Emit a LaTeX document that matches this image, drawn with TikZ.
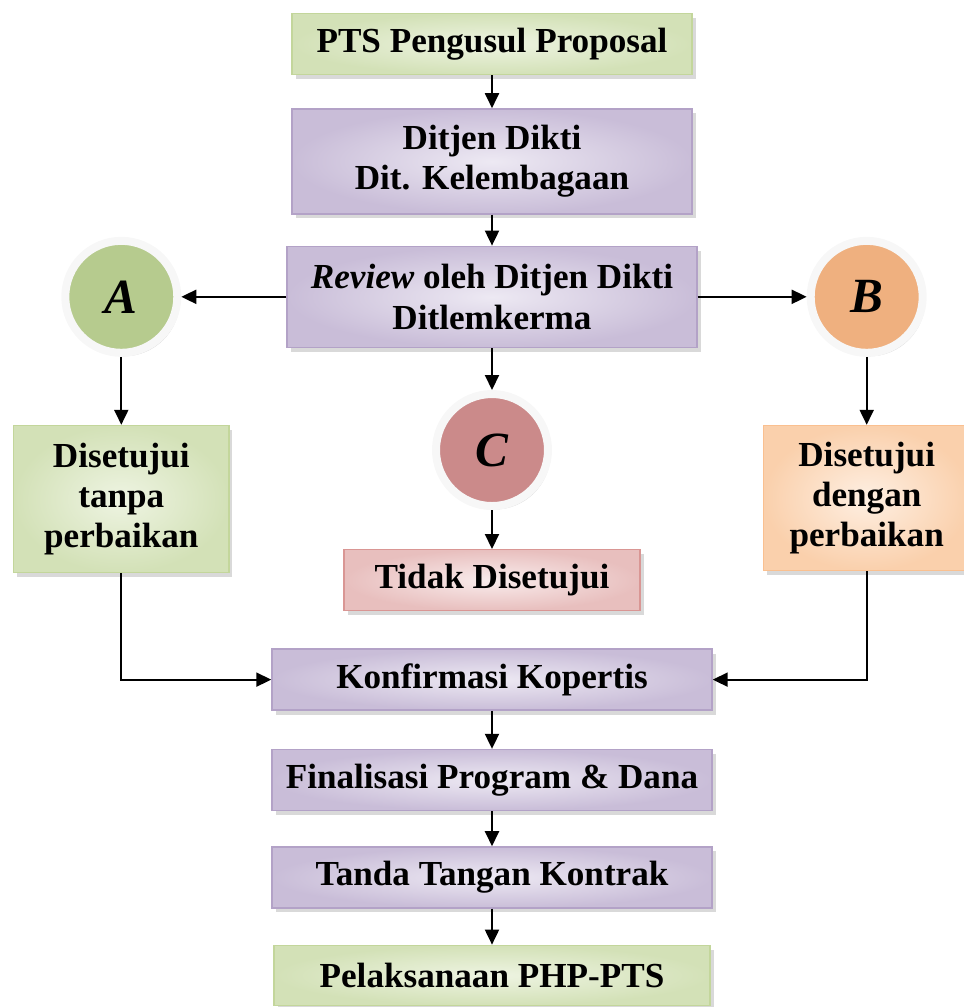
\documentclass[tikz,border=0pt]{standalone}
\usepackage{fontspec}
\setmainfont{Liberation Serif}
\usepackage{tikz}
\usepackage{xcolor}
\usetikzlibrary{shapes.geometric, arrows.meta, positioning, shadows}

\definecolor{grnlight}{HTML}{EEF4E2}
\definecolor{grndark}{HTML}{D3E1B7}
\definecolor{grnline}{HTML}{C3D69B}
\definecolor{purlight}{HTML}{EDE9F3}
\definecolor{purdark}{HTML}{C9BDD8}
\definecolor{purline}{HTML}{B3A2C7}
\definecolor{pchlight}{HTML}{FEEFE2}
\definecolor{pchdark}{HTML}{FAD0AC}
\definecolor{pchline}{HTML}{FAC090}
\definecolor{pnklight}{HTML}{F9ECEC}
\definecolor{pnkdark}{HTML}{E8BFBE}
\definecolor{pnkline}{HTML}{D99694}
\definecolor{circA}{HTML}{B6CB8E}
\definecolor{circB}{HTML}{EFB07F}
\definecolor{circC}{HTML}{CB8A8A}

\tikzstyle{basebox} = [rectangle,
minimum height=1.22cm,
text centered,
align=center,
line width=0.8pt,
font=\fontsize{20}{23}\selectfont\bfseries,
drop shadow={opacity=0.3, shadow xshift=0.07cm, shadow yshift=-0.09cm}]
\tikzstyle{greenbox} = [basebox, draw=grnline, inner color=grnlight, outer color=grndark]
\tikzstyle{purplebox} = [basebox, draw=purline, inner color=purlight, outer color=purdark]
\tikzstyle{peachbox} = [basebox, draw=pchline, inner color=pchlight, outer color=pchdark]
\tikzstyle{pinkbox} = [basebox, draw=pnkline, inner color=pnklight, outer color=pnkdark]
\tikzstyle{badge} = [circle,
minimum size=2.24cm,
draw=gray!6,
line width=0.16cm,
font=\fontsize{28}{30}\selectfont\bfseries\itshape,
drop shadow={opacity=0.3, shadow xshift=0.05cm, shadow yshift=-0.07cm}]
\tikzstyle{arrow} = [line width=1.1pt, -{Triangle[length=0.3cm, width=0.28cm]}]

\begin{document}
\begin{tikzpicture}[node distance=0.64cm]
        \useasboundingbox (0,0) rectangle (19.28,-20.14);

        % --- Nodes ---
        \node (pts) [greenbox, minimum width=8cm] at (9.84,-0.88) {PTS Pengusul Proposal};

        \node (ditjen) [purplebox, minimum width=8cm, minimum height=2.1cm, below=0.66cm of pts] {Ditjen Dikti \\ Dit. Kelembagaan};

        \node (review) [purplebox, minimum width=8.2cm, minimum height=2.02cm, below=0.62cm of ditjen] {\textit{Review} oleh Ditjen Dikti \\ Ditlemkerma};

        \node (bA) [badge, fill=circA, left=2.1cm of review] {A};
        \node (bB) [badge, fill=circB, right=2.18cm of review] {B};
        \node (bC) [badge, fill=circC, below=0.84cm of review] {C};

        \node (tanpa) [greenbox, minimum width=4.3cm, minimum height=2.94cm, below=1.36cm of bA] {Disetujui \\ tanpa \\ perbaikan};
        \node (dengan) [peachbox, minimum width=4.12cm, minimum height=2.9cm, below=1.36cm of bB] {Disetujui \\ dengan \\ perbaikan};

        \node (tidak) [pinkbox, minimum width=5.92cm, below=0.78cm of bC] {Tidak Disetujui};

        \node (konf) [purplebox, minimum width=8.8cm, below=0.74cm of tidak] {Konfirmasi Kopertis};
        \node (final) [purplebox, minimum width=8.8cm, below=0.76cm of konf] {Finalisasi Program \& Dana};
        \node (kontrak) [purplebox, minimum width=8.8cm, below=0.7cm of final] {Tanda Tangan Kontrak};
        \node (pelaksana) [greenbox, minimum width=8.72cm, minimum height=1.2cm, below=0.72cm of kontrak] {Pelaksanaan PHP-PTS};

        % --- Connectors ---
        \draw [arrow] (pts) -- (ditjen);
        \draw [arrow] (ditjen) -- (review);
        \draw [arrow] (review) -- (bA);
        \draw [arrow] (review) -- (bB);
        \draw [arrow] (review) -- (bC);
        \draw [arrow] (bA) -- (tanpa);
        \draw [arrow] (bB) -- (dengan);
        \draw [arrow] (bC) -- (tidak);
        \draw [arrow] (tanpa.south) |- (konf.west);
        \draw [arrow] (dengan.south) |- (konf.east);
        \draw [arrow] (konf) -- (final);
        \draw [arrow] (final) -- (kontrak);
        \draw [arrow] (kontrak) -- (pelaksana);

    \end{tikzpicture}
\end{document}
